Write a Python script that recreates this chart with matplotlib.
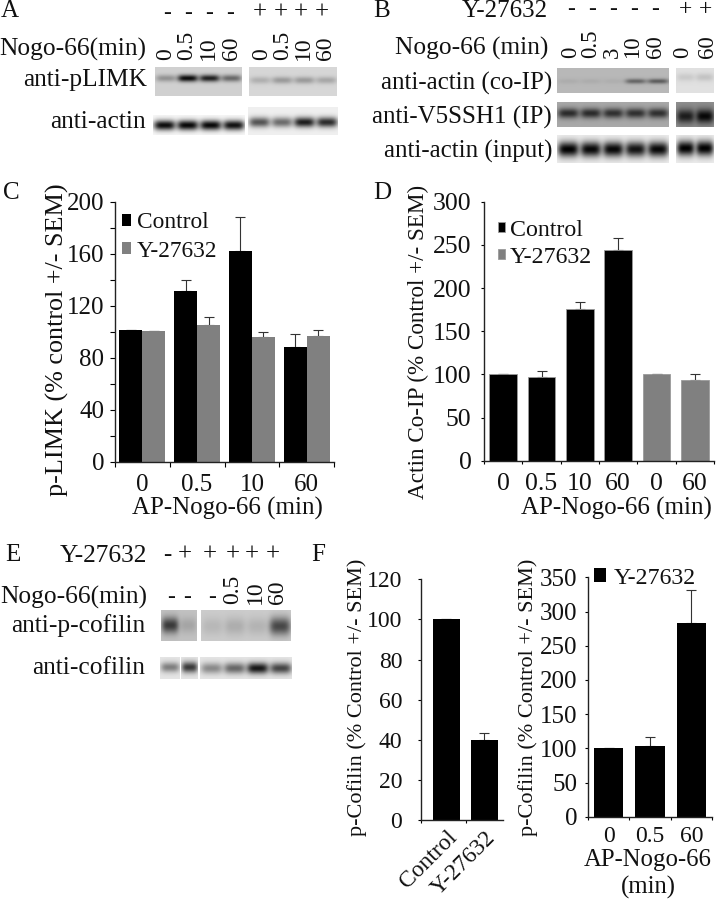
import numpy as np
import matplotlib
matplotlib.use('Agg')
import matplotlib.pyplot as plt

plt.rcParams['font.family'] = ['Liberation Serif', 'DejaVu Serif']

W, H = 716, 899
BLACK = '#000000'
GREY = '#808080'
TEXT = '#111111'

# bar data
c_cats = ['0', '0.5', '10', '60']
c_control = [101, 131, 162, 88.5]
c_control_top = [101, 140, 188, 98]
c_y27632 = [100.5, 105, 96, 97]
c_y27632_top = [100.5, 111, 99.5, 101.5]
c_ticks = [0, 40, 80, 120, 160, 200]

d_cats = ['0', '0.5', '10', '60', '0', '60']
d_values = [100, 97, 176, 244, 100, 93]
d_tops = [100, 104, 184, 258, 100, 100]
d_ticks = [0, 50, 100, 150, 200, 250, 300]

f1_cats = ['Control', 'Y-27632']
f1_values = [100, 40]
f1_tops = [100, 43.5]
f1_ticks = [0, 20, 40, 60, 80, 100, 120]

f2_cats = ['0', '0.5', '60']
f2_values = [100, 104, 283]
f2_tops = [100, 117, 332]
f2_ticks = [0, 50, 100, 150, 200, 250, 300, 350]

# blot band strengths per lane (0 none, 1 black)
a_plimk_l = [0.3, 0.95, 0.85, 0.5]
a_plimk_r = [0.18, 0.28, 0.28, 0.22]
a_actin_l = [0.95, 0.97, 0.97, 0.93]
a_actin_r = [0.65, 0.55, 0.88, 0.82]
b_coip_l = [0.06, 0.06, 0.05, 0.45, 0.5]
b_coip_r = [0.1, 0.13]
b_ip_l = [0.75, 0.75, 0.72, 0.72, 0.72]
b_ip_r = [0.8, 0.95]
b_input_l = [1.0, 0.97, 0.97, 0.92, 0.97]
b_input_r = [1.0, 1.0]
e_pcof_l = [0.7, 0.15]
e_pcof_r = [0.1, 0.15, 0.12, 0.65]
e_cof_l = [0.45, 0.75]
e_cof_r = [0.4, 0.55, 0.9, 0.7]


def blot(ax, x0, x1, y0, y1, strengths, bg, band_y, band_h, fill=0.47):
    '''Paint one blot strip as an image, with one soft band per lane.'''
    xx, yy = np.meshgrid(np.arange(x0, x1, 0.5), np.arange(y0, y1, 0.5))
    img = np.full(xx.shape, float(bg))
    lane = (x1 - x0) / len(strengths)
    for i, s in enumerate(strengths):
        cx = x0 + (i + 0.5) * lane
        shape = np.exp(-((xx - cx) / (lane * fill)) ** 4) * \
            np.exp(-((yy - band_y) / band_h) ** 2)
        img = img * (1 - s * shape)
    ax.imshow(img, cmap='gray', vmin=0, vmax=1, aspect='auto',
              extent=(x0, x1, y1, y0), interpolation='bilinear')


def label(ax, x, y, s, size=18.3, ha='right', rotation=0):
    ax.text(x, y, s, fontsize=size, ha=ha, va='center', rotation=rotation,
            color=TEXT)


def rotated(ax, xs, bottom, names, size=17):
    for x, s in zip(xs, names):
        ax.text(x, bottom, s, fontsize=size, rotation=90, ha='center',
                va='bottom', color=TEXT)


def signs(ax, xs, y, chars, size=17):
    for x, s in zip(xs, chars):
        ax.text(x, y, s, fontsize=size, ha='center', va='center', color=TEXT)


def chart(left, right, y_bottom, y_top, ymax, ticks, xlim, size=18, tick=2, pad=6, xpad=8):
    '''Axes placed by pixel box, with the spines this figure uses.'''
    ax = fig.add_axes([left / W, 1 - y_bottom / H, (right - left) / W,
                       (y_bottom - y_top) / H])
    ax.patch.set_alpha(0)
    ax.set_ylim(0, ymax)
    ax.set_xlim(*xlim)
    ax.set_yticks(ticks)
    for side in ('top', 'right'):
        ax.spines[side].set_visible(False)
    for side in ('left', 'bottom'):
        ax.spines[side].set_linewidth(1.0)
        ax.spines[side].set_color('#222222')
    ax.tick_params(axis='y', length=tick, width=0.8, labelsize=size, pad=pad,
                   labelcolor=TEXT)
    ax.tick_params(axis='x', which='major', length=0, labelsize=size, pad=xpad,
                   labelcolor=TEXT)
    ax.tick_params(axis='x', which='minor', length=tick, width=0.8)
    return ax


def errs(ax, xs, values, tops, cap=3.5):
    low = np.zeros(len(values))
    high = np.array(tops) - np.array(values)
    ax.errorbar(xs, values, yerr=[low, high], fmt='none', ecolor='#333333',
                elinewidth=0.8, capsize=cap, capthick=0.8, zorder=1)


def legend(ax, handles, names, x, y, size=16.5, gap=0.25, hl=0.42, space=0.25):
    ax.legend(handles, names, loc='upper left', bbox_to_anchor=(x, y),
              frameon=False, fontsize=size, handlelength=hl, handleheight=hl,
              handletextpad=gap, labelspacing=space, borderpad=0,
              borderaxespad=0, labelcolor=TEXT)


fig = plt.figure(figsize=(W / 100, H / 100), dpi=100)
bg = fig.add_axes([0, 0, 1, 1])

# panel A
blot(bg, 155, 242, 67, 96, a_plimk_l, 0.82, 78, 3.5)
blot(bg, 249, 337, 67, 96, a_plimk_r, 0.84, 80, 3.5)
blot(bg, 153, 245, 115, 135, a_actin_l, 0.97, 125, 5)
blot(bg, 248, 338, 107, 135, a_actin_r, 0.94, 122, 5)
signs(bg, [167, 188, 209, 230], 13, '----')
signs(bg, [260, 281, 301, 322], 13, '++++', size=18)
rotated(bg, [166, 187, 208, 232, 262, 283, 303, 325], 60,
        ['0', '0.5', '10', '60', '0', '0.5', '10', '60'])
label(bg, 146, 49, 'Nogo-66(min)')
label(bg, 147, 80, 'anti-pLIMK')
label(bg, 146, 122, 'anti-actin')

# panel B
blot(bg, 557, 669, 68, 93, b_coip_l, 0.72, 81, 2.5)
blot(bg, 676, 714, 68, 93, b_coip_r, 0.88, 77, 4)
blot(bg, 557, 669, 102, 127, b_ip_l, 0.66, 113, 5)
blot(bg, 676, 714, 102, 127, b_ip_r, 0.56, 116, 7)
blot(bg, 557, 669, 135, 163, b_input_l, 0.93, 149, 7.5)
blot(bg, 676, 714, 135, 163, b_input_r, 0.93, 148, 7.5)
signs(bg, [571, 592, 613, 634, 655], 10, '-----')
signs(bg, [685, 706], 10, '++', size=17)
rotated(bg, [571, 591, 612, 633, 655, 683, 707], 58,
        ['0', '0.5', '3', '10', '60', '0', '60'], size=16.5)
label(bg, 548, 11, 'Y-27632', size=18)
label(bg, 548, 48, 'Nogo-66 (min)')
label(bg, 552, 83, 'anti-actin (co-IP)', size=18)
label(bg, 552, 117, 'anti-V5SSH1 (IP)', size=18)
label(bg, 552, 151, 'anti-actin (input)', size=18)

# panel E
blot(bg, 161, 197, 610, 641, e_pcof_l, 0.76, 625, 8)
blot(bg, 201, 291, 610, 641, e_pcof_r, 0.8, 626, 9)
blot(bg, 160, 180, 657, 679, e_cof_l[:1], 0.9, 667, 5)
blot(bg, 181, 198, 657, 679, e_cof_l[1:], 0.9, 667, 5.5)
blot(bg, 200, 292, 657, 679, e_cof_r, 0.9, 668, 5.5)
signs(bg, [167, 185, 210, 233, 252, 273], 555, '-+++++', size=18)
signs(bg, [171, 187, 212], 597, '---')
rotated(bg, [233, 255, 278], 604, ['0.5', '10', '60'])
label(bg, 147, 556, 'Y-27632')
label(bg, 147, 597, 'Nogo-66(min)')
label(bg, 145, 626, 'anti-p-cofilin')
label(bg, 145, 668, 'anti-cofilin')

for x, y, s in [(1, 11, 'A'), (373, 11, 'B'), (3, 193, 'C'), (373, 193, 'D'),
                (5, 555, 'E'), (311, 555, 'F')]:
    label(bg, x, y, s, size=18, ha='left')

# axis titles sit in pixel positions shared with the blot layer
label(bg, 57, 340, 'p-LIMK (% control +/- SEM)', size=18.8, ha='center', rotation=90)
label(bg, 227, 508, 'AP-Nogo-66 (min)', size=18, ha='center')
label(bg, 418, 342, 'Actin Co-IP (% Control +/- SEM)', size=16.7, ha='center', rotation=90)
label(bg, 616, 508, 'AP-Nogo-66 (min)', size=18, ha='center')
label(bg, 357, 697, 'p-Cofilin (% Control +/- SEM)', size=16, ha='center', rotation=90)
label(bg, 528, 697, 'p-Cofilin (% Control +/- SEM)', size=16, ha='center', rotation=90)
label(bg, 648, 860, 'AP-Nogo-66', size=17.8, ha='center')
label(bg, 648, 887, '(min)', size=17.8, ha='center')

bg.set_xlim(0, W)
bg.set_ylim(H, 0)
bg.axis('off')

# panel C
ax = chart(115, 334, 461.7, 201.7, 200, c_ticks, (-0.5, 3.5), tick=3.6, pad=4.3, xpad=8.5)
ax.set_yticks(np.arange(0, 201, 20), minor=True)
ax.tick_params(axis='y', which='minor', length=3.6, width=0.8)
pos = np.arange(len(c_cats))
bars1 = ax.bar(pos - 0.21, c_control, 0.42, color=BLACK, zorder=2)
bars2 = ax.bar(pos + 0.21, c_y27632, 0.42, color=GREY, zorder=2)
errs(ax, pos - 0.21, c_control, c_control_top)
errs(ax, pos + 0.21, c_y27632, c_y27632_top)
ax.set_xticks(pos)
ax.set_xticklabels(c_cats)
ax.set_xticks(np.arange(len(c_cats) + 1) - 0.5, minor=True)
legend(ax, [bars1, bars2], ['Control', 'Y-27632'], 0.03, 0.96, size=16.8, space=0.32)

# panel D
ax = chart(484, 714, 460.7, 201.7, 300, d_ticks, (-0.5, 5.5), size=18.5, tick=2, pad=7, xpad=9)
pos = np.arange(len(d_cats))
colors = [BLACK] * 4 + [GREY] * 2
bars = ax.bar(pos, d_values, 0.72, color=colors, edgecolor='#9a9a9a',
              linewidth=0.6, zorder=2)
errs(ax, pos, d_values, d_tops)
ax.set_xticks(pos)
ax.set_xticklabels(d_cats)
ax.set_xticks(np.arange(len(d_cats) + 1) - 0.5, minor=True)
legend(ax, [bars[0], bars[4]], ['Control', 'Y-27632'], 0.06, 0.93, size=17.2, gap=0.2, hl=0.3, space=0.25)

# panel F, left
ax = chart(421, 503, 820, 579.3, 120, f1_ticks, (-0.666, 1.49), size=17, tick=2, pad=11.5)
pos = np.arange(len(f1_cats))
ax.bar(pos, f1_values, 0.72, color=BLACK, zorder=2)
errs(ax, pos, f1_values, f1_tops)
ax.set_xticks(pos)
ax.set_xticklabels(f1_cats, rotation=45, ha='right', rotation_mode='anchor',
                   fontsize=17)
ax.tick_params(axis='x', which='major', pad=5)
ax.set_xticks([-0.666, 0.52], minor=True)

# panel F, right
ax = chart(588, 712, 816.7, 577.3, 350, f2_ticks, (-0.5, 2.5), size=18, tick=2, pad=5.8, xpad=7)
pos = np.arange(len(f2_cats))
bars = ax.bar(pos, f2_values, 0.71, color=BLACK, zorder=2)
errs(ax, pos, f2_values, f2_tops)
ax.set_xticks(pos)
ax.set_xticklabels(f2_cats, fontsize=17)
ax.set_xticks(np.arange(len(f2_cats) + 1) - 0.5, minor=True)
legend(ax, [bars[0]], ['Y-27632'], 0.05, 1.04, size=17.2, gap=0.3, hl=0.5)

fig.savefig('out.png', dpi=100)
